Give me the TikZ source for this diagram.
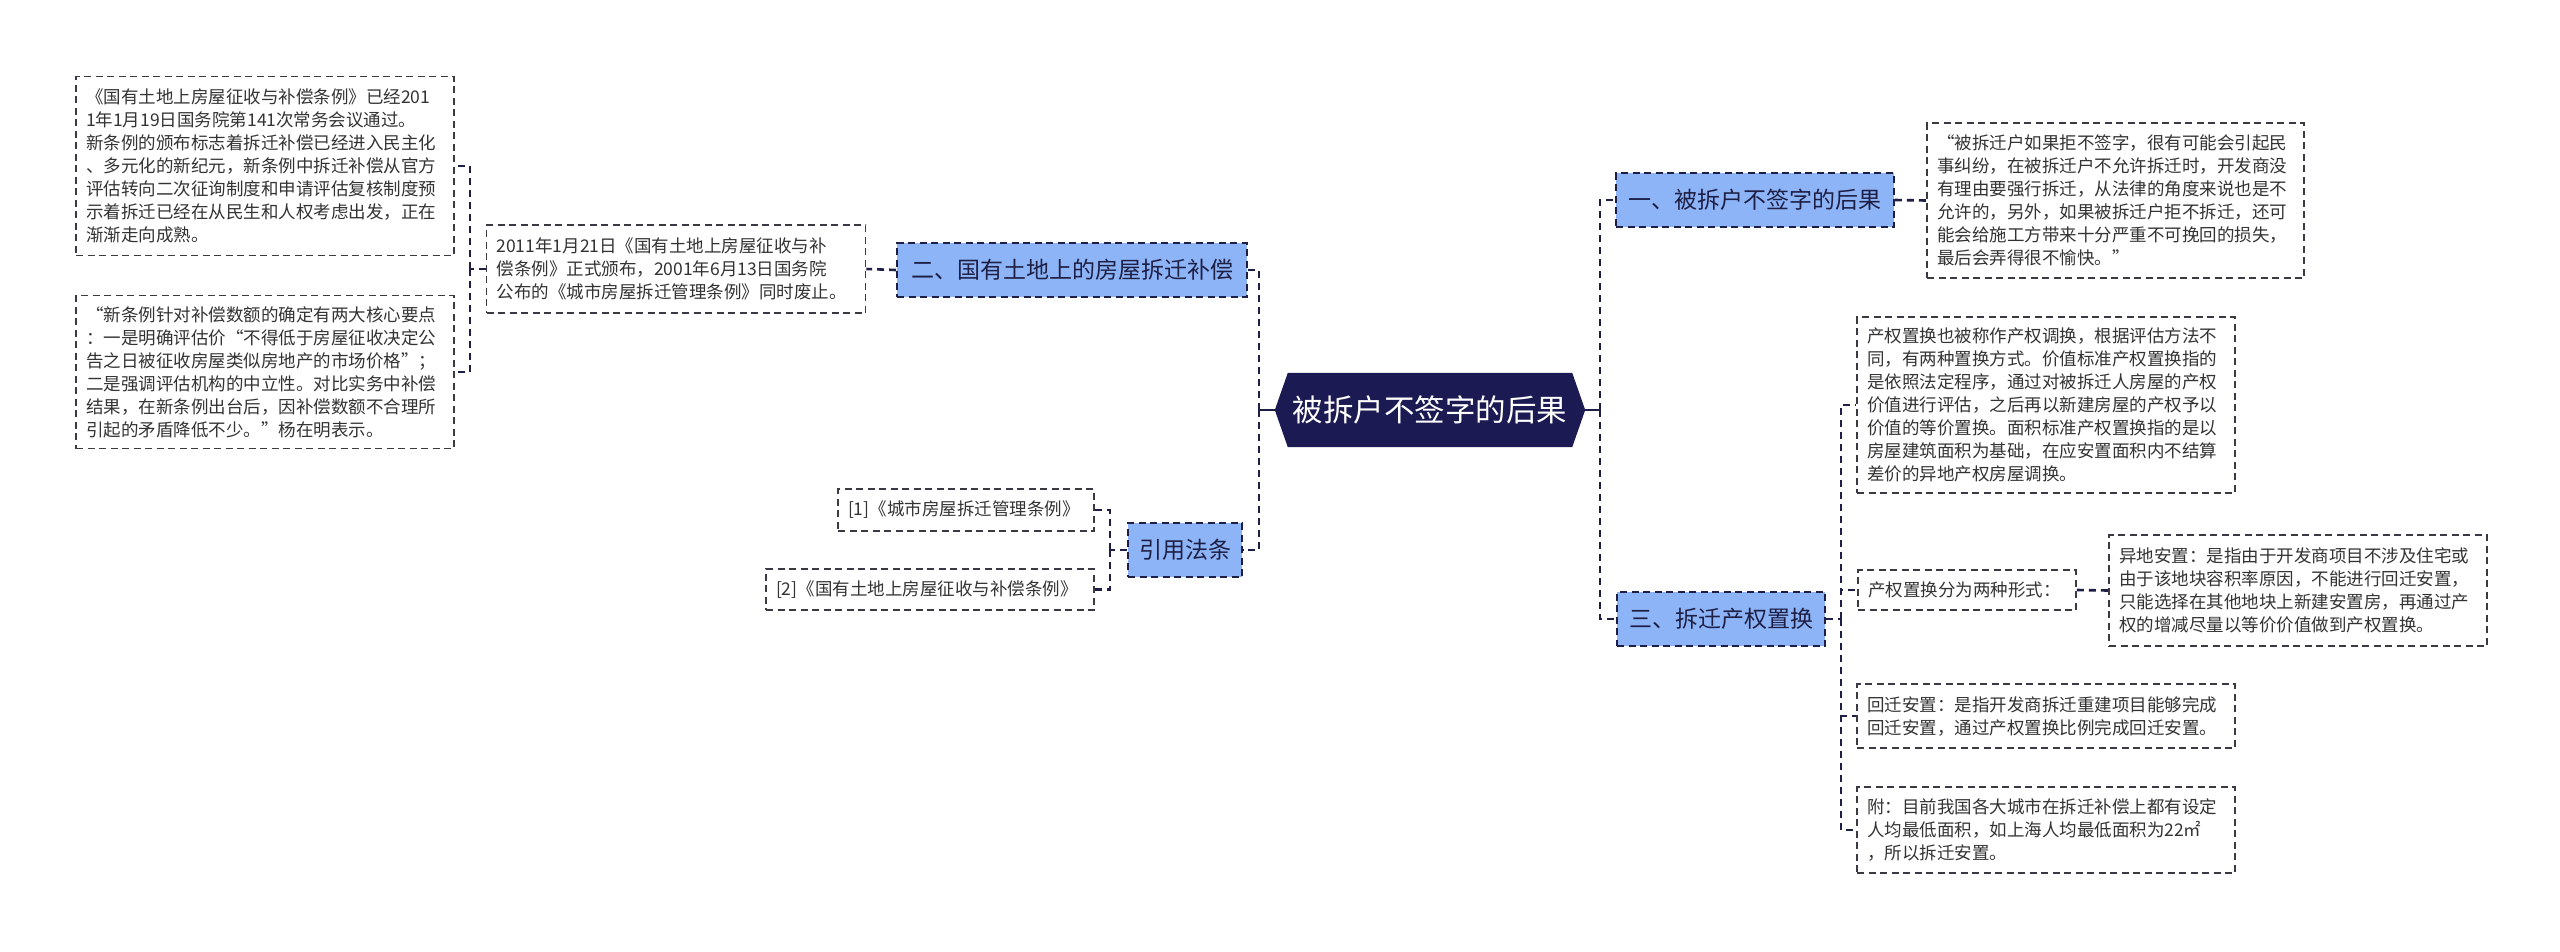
\documentclass[tikz,border=0pt]{standalone}
\usepackage{fontspec}
\setmainfont{Noto Sans CJK SC}
\usetikzlibrary{backgrounds}
\definecolor{navy}{HTML}{1B1A52}
\definecolor{lineC}{HTML}{1E1F45}
\definecolor{branchF}{HTML}{8DB4F7}
\definecolor{leafB}{HTML}{3A3A44}
\definecolor{leafT}{HTML}{333333}
\begin{document}
\begin{tikzpicture}[x=1pt,y=-1pt,
  leaf/.style={draw=leafB, dash pattern=on 7pt off 4.5pt, line width=1.8pt, fill=white,
    align=left, inner xsep=10pt, inner ysep=4pt, text=leafT,
    font=\fontsize{17.5}{23}\selectfont, anchor=center},
  branch/.style={draw=lineC, dash pattern=on 7pt off 4.5pt, line width=1.8pt, fill=branchF,
    text=lineC, font=\fontsize{23}{28}\selectfont, minimum height=54pt, inner xsep=10pt, anchor=center},
  rootnode/.style={text=white, font=\fontsize{30.5}{34}\selectfont, minimum width=284pt,
    minimum height=74pt, inner sep=0pt, anchor=center},
  conn/.style={draw=lineC, line width=2.6pt, dash pattern=on 7pt off 5pt},
  connsolid/.style={draw=lineC, line width=2.6pt},
]
\useasboundingbox (0,0) rectangle (2560,951);

% root
\node[rootnode] (root) at (1430,410) {被拆户不签字的后果};
\begin{scope}[on background layer]
\fill[white] (0,0) rectangle (2560,951);
\fill[navy] (root.north west) -- (root.north east) -- ([xshift=13pt]root.east)
  -- (root.south east) -- (root.south west) -- ([xshift=-13pt]root.west) -- cycle;
\end{scope}
\coordinate (rootL) at ([xshift=-13pt]root.west);
\coordinate (rootR) at ([xshift=13pt]root.east);

% left branch: 二
\node[branch, minimum width=350pt] (n2) at (1072,270) {二、国有土地上的房屋拆迁补偿};
\node[leaf, text width=359pt, minimum height=88pt] (c) at (676,269) {2011年1月21日《国有土地上房屋征收与补\\偿条例》正式颁布，2001年6月13日国务院\\公布的《城市房屋拆迁管理条例》同时废止。};
\node[leaf, text width=358pt, minimum height=179pt] (a) at (265,166) {《国有土地上房屋征收与补偿条例》已经201\\1年1月19日国务院第141次常务会议通过。\\新条例的颁布标志着拆迁补偿已经进入民主化\\、多元化的新纪元，新条例中拆迁补偿从官方\\评估转向二次征询制度和申请评估复核制度预\\示着拆迁已经在从民生和人权考虑出发，正在\\渐渐走向成熟。};
\node[leaf, text width=358pt, minimum height=153pt] (b) at (265,372) {“新条例针对补偿数额的确定有两大核心要点\\：一是明确评估价“不得低于房屋征收决定公\\告之日被征收房屋类似房地产的市场价格”；\\二是强调评估机构的中立性。对比实务中补偿\\结果，在新条例出台后，因补偿数额不合理所\\引起的矛盾降低不少。”杨在明表示。};

% left branch: 引用法条
\node[branch, minimum width=114pt] (ref) at (1185,550) {引用法条};
\node[leaf, text width=236pt, minimum height=42pt] (r1) at (966,510) {[1]《城市房屋拆迁管理条例》};
\node[leaf, text width=308pt, minimum height=41pt] (r2) at (930,589.5) {[2]《国有土地上房屋征收与补偿条例》};

% right branch: 一
\node[branch, minimum width=278pt] (n1) at (1755,200) {一、被拆户不签字的后果};
\node[leaf, text width=357pt, minimum height=155pt] (q) at (2115.5,200.5) {“被拆迁户如果拒不签字，很有可能会引起民\\事纠纷，在被拆迁户不允许拆迁时，开发商没\\有理由要强行拆迁，从法律的角度来说也是不\\允许的，另外，如果被拆迁户拒不拆迁，还可\\能会给施工方带来十分严重不可挽回的损失，\\最后会弄得很不愉快。”};

% right branch: 三
\node[branch, minimum width=208pt] (n3) at (1721,619) {三、拆迁产权置换};
\node[leaf, text width=358pt, minimum height=176pt] (p) at (2046,405) {产权置换也被称作产权调换，根据评估方法不\\同，有两种置换方式。价值标准产权置换指的\\是依照法定程序，通过对被拆迁人房屋的产权\\价值进行评估，之后再以新建房屋的产权予以\\价值的等价置换。面积标准产权置换指的是以\\房屋建筑面积为基础，在应安置面积内不结算\\差价的异地产权房屋调换。};
\node[leaf, text width=198pt, minimum height=40pt] (t) at (1967,590) {产权置换分为两种形式：};
\node[leaf, text width=358pt, minimum height=111pt] (y) at (2298,590.5) {异地安置：是指由于开发商项目不涉及住宅或\\由于该地块容积率原因，不能进行回迁安置，\\只能选择在其他地块上新建安置房，再通过产\\权的增减尽量以等价价值做到产权置换。};
\node[leaf, text width=358pt, minimum height=64pt] (h) at (2046,716) {回迁安置：是指开发商拆迁重建项目能够完成\\回迁安置，通过产权置换比例完成回迁安置。};
\node[leaf, text width=358pt, minimum height=86pt] (f) at (2046,830) {附：目前我国各大城市在拆迁补偿上都有设定\\人均最低面积，如上海人均最低面积为22㎡\\，所以拆迁安置。};

% connectors
\coordinate (jl) at (1259,410);
\coordinate (jr) at (1600,410);
\draw[connsolid] (rootL) -- (jl);
\draw[connsolid] (rootR) -- (jr);
\draw[conn] (jl) |- (n2.east);
\draw[conn] (jl) |- (ref.east);
\draw[conn] (jr) |- (n1.west);
\draw[conn] (jr) |- (n3.west);

\draw[conn] (n2.west) -- (c.east);
\coordinate (jc) at (470,269);
\draw[conn] (c.west) -- (jc);
\draw[conn] (jc) |- (a.east);
\draw[conn] (jc) |- (b.east);

\coordinate (jref) at (1110,550);
\draw[conn] (ref.west) -- (jref);
\draw[conn] (jref) |- (r1.east);
\draw[conn] (jref) |- (r2.east);

\draw[conn] (n1.east) -- (q.west);

\coordinate (j3) at (1841,619);
\draw[conn] (n3.east) -- (j3);
\draw[conn] (j3) |- (p.west);
\draw[conn] (j3) |- (t.west);
\draw[conn] (j3) |- (h.west);
\draw[conn] (j3) |- (f.west);

\draw[conn] (t.east) -- (y.west);
\end{tikzpicture}
\end{document}
